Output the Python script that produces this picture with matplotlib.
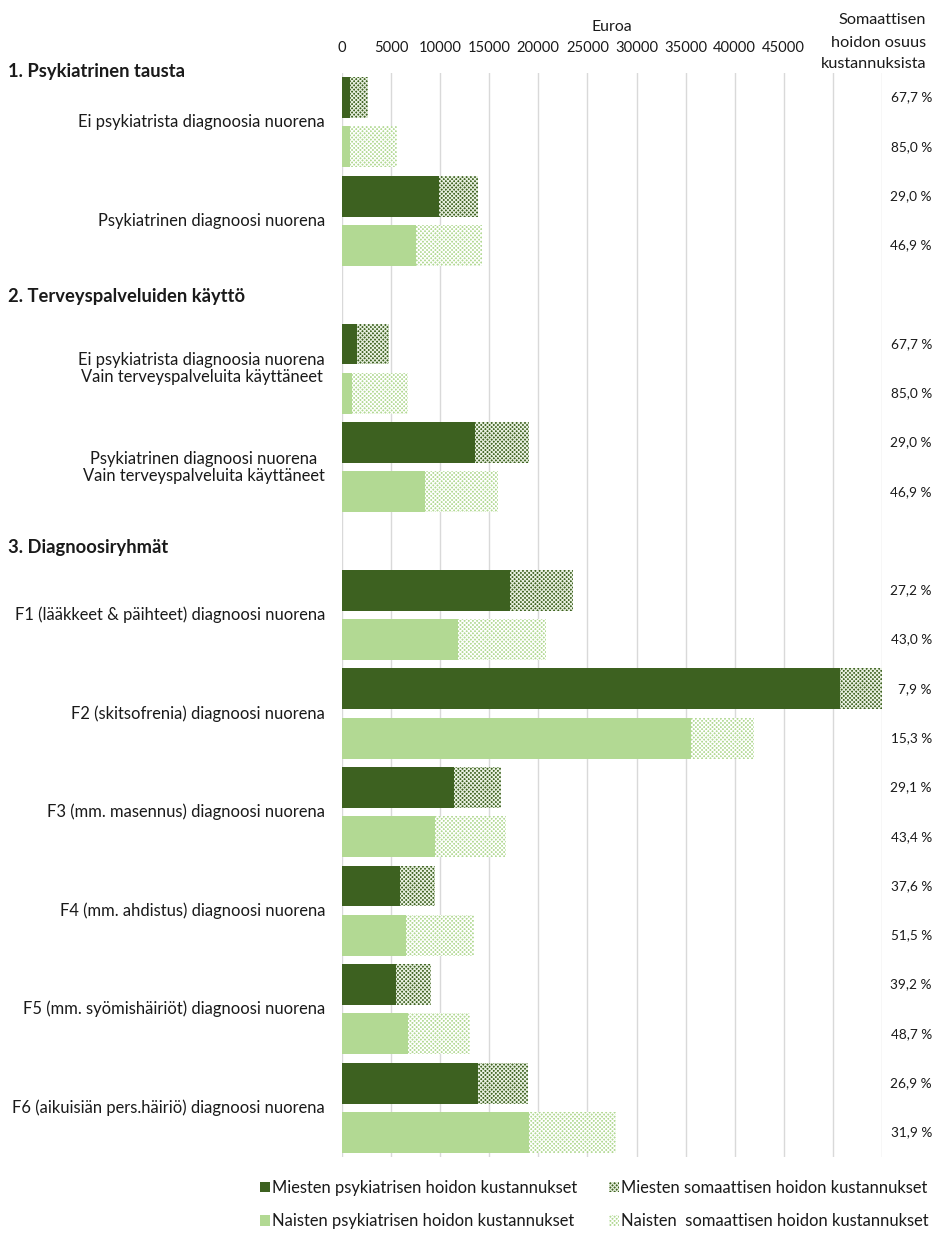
import matplotlib
matplotlib.use("Agg")
import matplotlib.pyplot as plt
from matplotlib.transforms import blended_transform_factory

plt.rcParams["font.family"] = ["Lato", "DejaVu Sans"]
plt.rcParams["hatch.linewidth"] = 0.8

# Cost groups (row labels, top to bottom)
groups = [
    "Ei psykiatrista diagnoosia nuorena",
    "Psykiatrinen diagnoosi nuorena",
    "Ei psykiatrista diagnoosia nuorena\nVain terveyspalveluita käyttäneet",
    "Psykiatrinen diagnoosi nuorena\nVain terveyspalveluita käyttäneet",
    "F1 (lääkkeet & päihteet) diagnoosi nuorena",
    "F2 (skitsofrenia) diagnoosi nuorena",
    "F3 (mm. masennus) diagnoosi nuorena",
    "F4 (mm. ahdistus) diagnoosi nuorena",
    "F5 (mm. syömishäiriöt) diagnoosi nuorena",
    "F6 (aikuisiän pers.häiriö) diagnoosi nuorena",
]
sections = ["1. Psykiatrinen tausta", "2. Terveyspalveluiden käyttö", "3. Diagnoosiryhmät"]

# Euros per person
men_psych = [846, 9855, 1533, 13511, 17137, 50738, 11457, 5897, 5533, 13874]
men_som = [1774, 4025, 3212, 5519, 6403, 4352, 4703, 3553, 3567, 5106]
women_psych = [834, 7559, 1010, 8454, 11856, 35523, 9458, 6523, 6679, 19027]
women_som = [4726, 6676, 5725, 7466, 8944, 6417, 7252, 6927, 6341, 8913]

x_ticks = list(range(0, 55001, 5000))
x_tick_labels = [str(t) if t <= 45000 else "" for t in x_ticks]

legend_labels = [
    "Miesten psykiatrisen hoidon kustannukset",
    "Miesten somaattisen hoidon kustannukset",
    "Naisten psykiatrisen hoidon kustannukset",
    "Naisten  somaattisen hoidon kustannukset",
]

DARK = "#3d6120"
LIGHT = "#b2d993"
GRID = "#d9d9d9"
TEXT = "#1a1a1a"
FS = 11.9

# Row slots: each group takes two rows, section headers take one
group_slots = [0, 2, 5, 7, 10, 12, 14, 16, 18, 20]
header_slots = [-0.53, 4.04, 9.14]
men_y = [s for s in group_slots]
women_y = [s + 1 for s in group_slots]

W, H = 933, 1234
fig = plt.figure(figsize=(W / 100, H / 100), dpi=100)
left, right, top, bottom = 342, 882, 73, 1157
ax = fig.add_axes([left / W, 1 - bottom / H, (right - left) / W, (bottom - top) / H])

bh = 0.83
b1 = ax.barh(men_y, men_psych, height=bh, color=DARK, linewidth=0)
b2 = ax.barh(men_y, men_som, left=men_psych, height=bh, facecolor=DARK,
             edgecolor="#e8f0e0", hatch="xxxxxxxx", linewidth=0)
b3 = ax.barh(women_y, women_psych, height=bh, color=LIGHT, linewidth=0)
b4 = ax.barh(women_y, women_som, left=women_psych, height=bh, facecolor=LIGHT,
             edgecolor="white", hatch="xxxxxxxx", linewidth=0)

ax.set_xlim(0, 55000)
ax.set_ylim(21.5, -0.5)
ax.set_xticks(x_ticks)
ax.set_xticklabels(x_tick_labels)
ax.set_yticks([])
ax.xaxis.tick_top()
ax.tick_params(axis="x", length=0, pad=13, labelsize=10.6, labelcolor=TEXT)
ax.grid(axis="x", color=GRID, linewidth=1)
ax.set_axisbelow(True)
for sp in ax.spines.values():
    sp.set_visible(False)

fig.text((left + right) / 2 / W, 1 - 27 / H, "Euroa", ha="center", va="center",
         fontsize=11.4, color=TEXT)

tr = blended_transform_factory(ax.transAxes, ax.transData)
def ax_x(px):
    return (px - left) / (right - left)

# Group labels
for slot, name in zip(group_slots, groups):
    ax.text(ax_x(325), slot + 0.5, name, transform=tr, ha="right", va="center",
            fontsize=FS, color=TEXT, multialignment="center", linespacing=1.05)

# Section headers
for slot, name in zip(header_slots, sections):
    ax.text(ax_x(8), slot, name, transform=tr, ha="left", va="center",
            fontsize=13.2, fontweight="bold", color=TEXT, clip_on=False)

# Somatic share labels
def share_label(p, s):
    return f"{s / (p + s) * 100:.1f}".replace(".", ",") + " %"

for y, p, s in zip(men_y, men_psych, men_som):
    ax.text(ax_x(932), y, share_label(p, s), transform=tr, ha="right", va="center",
            fontsize=9.8, color=TEXT)
for y, p, s in zip(women_y, women_psych, women_som):
    ax.text(ax_x(932), y, share_label(p, s), transform=tr, ha="right", va="center",
            fontsize=9.8, color=TEXT)

# Column header for the share labels
for txt, py in zip(["Somaattisen", "hoidon osuus", "kustannuksista"], [20, 43, 64]):
    fig.text(926 / W, 1 - py / H, txt, ha="right", va="center", fontsize=11.7, color=TEXT)

fig.legend([b1, b3, b2, b4],
           [legend_labels[0], legend_labels[2], legend_labels[1], legend_labels[3]],
           ncol=2, loc="upper left", bbox_to_anchor=(260 / W, 1 - 1180 / H),
           frameon=False, fontsize=FS, handlelength=0.6, handleheight=0.6,
           handletextpad=0.15, columnspacing=1.9, labelspacing=1.05, borderpad=0,
           borderaxespad=0, labelcolor=TEXT)

fig.savefig("out.png", dpi=100)
